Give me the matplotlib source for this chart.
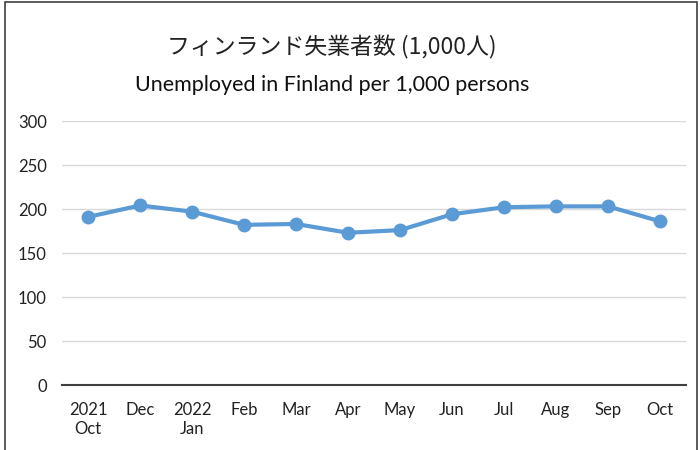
import matplotlib
matplotlib.use('Agg')
import matplotlib.pyplot as plt
from matplotlib.patches import Rectangle

months = ['2021\nOct', 'Dec', '2022\nJan', 'Feb', 'Mar', 'Apr', 'May',
          'Jun', 'Jul', 'Aug', 'Sep', 'Oct']
unemployed = [191, 204, 197, 182, 183, 173, 176, 194, 202, 203, 203, 186]
yticks = [0, 50, 100, 150, 200, 250, 300]

title_jp = 'フィンランド失業者数 (1,000人)'
title_en = 'Unemployed in Finland per 1,000 persons'

plt.rcParams['font.family'] = ['Lato', 'Noto Sans CJK JP', 'DejaVu Sans']

fig = plt.figure(figsize=(7, 4.5), dpi=100)
ax = fig.add_axes([62 / 700, 1 - 385 / 450, (686 - 62) / 700, (385 - 121) / 450])

x = list(range(len(months)))
ax.plot(x, unemployed, '-o', color='#5B9BD5', linewidth=3, markersize=9,
        zorder=3, clip_on=False)

ax.set_xlim(-0.5, len(months) - 0.5)
ax.set_ylim(0, 300)
ax.set_yticks(yticks)
ax.set_xticks(x)
ax.set_xticklabels(months, fontsize=12, color='#222222', linespacing=1.25)
ax.tick_params(axis='y', labelsize=12, colors='#222222', length=0, pad=11)
ax.tick_params(axis='x', length=0, pad=12)

ax.grid(True, axis='y', color='#D9D9D9', linewidth=1)
ax.set_axisbelow(True)
for side in ['top', 'right', 'left']:
    ax.spines[side].set_visible(False)
ax.spines['bottom'].set_color('#404040')
ax.spines['bottom'].set_linewidth(1.5)

fig.text(332 / 700, 1 - 47 / 450, title_jp, ha='center', va='center',
         fontsize=16.5, family=['Noto Sans CJK JP', 'DejaVu Sans'], color='#222222')
fig.text(332 / 700, 1 - 85 / 450, title_en, ha='center', va='center',
         fontsize=15.5, color='#111111')

# chart border
fig.patches.append(Rectangle((5 / 700, -0.1), 692 / 700, 1.1 - 2 / 450,
                             transform=fig.transFigure, fill=False,
                             edgecolor='#404040', linewidth=1.2))

fig.savefig('out.png', dpi=100)
